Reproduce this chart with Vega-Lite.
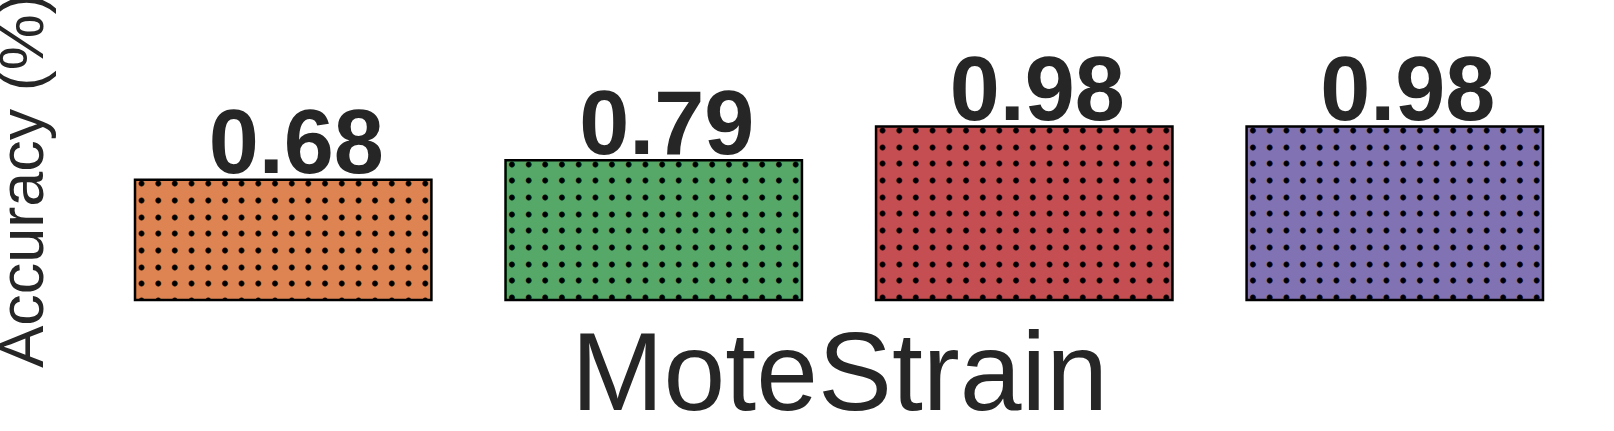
{
  "$schema": "https://vega.github.io/schema/vega-lite/v6.json",
  "width": 1408,
  "height": 240,
  "autosize": {"type": "none"},
  "padding": {"left": 135, "top": 60, "right": 71, "bottom": 131},
  "background": "white",
  "config": {"view": {"stroke": null}, "font": "Liberation Sans"},
  "data": {
    "values": [
      {"method": "Method 1", "accuracy": 0.68},
      {"method": "Method 2", "accuracy": 0.79},
      {"method": "Method 3", "accuracy": 0.98},
      {"method": "Method 4", "accuracy": 0.98}
    ]
  },
  "encoding": {
    "x": {
      "field": "method",
      "type": "nominal",
      "sort": null,
      "scale": {"paddingInner": 0.2, "paddingOuter": 0},
      "axis": {
        "title": "MoteStrain",
        "labels": false,
        "ticks": false,
        "domain": false,
        "grid": false,
        "titleFont": "Liberation Sans",
        "titleFontSize": 111,
        "titleFontWeight": "normal",
        "titleColor": "#262626",
        "titleX": 704,
        "titleY": 109,
        "titleAlign": "center",
        "titleBaseline": "alphabetic"
      }
    },
    "y": {
      "field": "accuracy",
      "type": "quantitative",
      "scale": {"domain": [0, 1.356], "nice": false, "zero": true},
      "axis": {
        "title": "Accuracy (%)",
        "labels": false,
        "ticks": false,
        "domain": false,
        "grid": false,
        "titleFont": "Liberation Sans",
        "titleFontSize": 63,
        "titleFontWeight": "normal",
        "titleColor": "#262626",
        "titleLimit": 2000,
        "titlePadding": 80
      }
    }
  },
  "layer": [
    {
      "mark": {"type": "bar", "strokeWidth": 0},
      "encoding": {
        "color": {
          "field": "method",
          "type": "nominal",
          "sort": null,
          "scale": {"range": ["#DD8452", "#55A868", "#C44E52", "#8172B3"]},
          "legend": null
        }
      }
    },
    {
      "mark": {
        "type": "text",
        "text": [
          "\u00a0•\u00a0•\u00a0•\u00a0•\u00a0•\u00a0•\u00a0•\u00a0•\u00a0•\u00a0•\u00a0•\u00a0•\u00a0•\u00a0•\u00a0•\u00a0•\u00a0•\u00a0•",
          "•\u00a0•\u00a0•\u00a0•\u00a0•\u00a0•\u00a0•\u00a0•\u00a0•\u00a0•\u00a0•\u00a0•\u00a0•\u00a0•\u00a0•\u00a0•\u00a0•\u00a0•\u00a0",
          "\u00a0•\u00a0•\u00a0•\u00a0•\u00a0•\u00a0•\u00a0•\u00a0•\u00a0•\u00a0•\u00a0•\u00a0•\u00a0•\u00a0•\u00a0•\u00a0•\u00a0•\u00a0•",
          "•\u00a0•\u00a0•\u00a0•\u00a0•\u00a0•\u00a0•\u00a0•\u00a0•\u00a0•\u00a0•\u00a0•\u00a0•\u00a0•\u00a0•\u00a0•\u00a0•\u00a0•\u00a0",
          "\u00a0•\u00a0•\u00a0•\u00a0•\u00a0•\u00a0•\u00a0•\u00a0•\u00a0•\u00a0•\u00a0•\u00a0•\u00a0•\u00a0•\u00a0•\u00a0•\u00a0•\u00a0•",
          "•\u00a0•\u00a0•\u00a0•\u00a0•\u00a0•\u00a0•\u00a0•\u00a0•\u00a0•\u00a0•\u00a0•\u00a0•\u00a0•\u00a0•\u00a0•\u00a0•\u00a0•\u00a0",
          "\u00a0•\u00a0•\u00a0•\u00a0•\u00a0•\u00a0•\u00a0•\u00a0•\u00a0•\u00a0•\u00a0•\u00a0•\u00a0•\u00a0•\u00a0•\u00a0•\u00a0•\u00a0•",
          "•\u00a0•\u00a0•\u00a0•\u00a0•\u00a0•\u00a0•\u00a0•\u00a0•\u00a0•\u00a0•\u00a0•\u00a0•\u00a0•\u00a0•\u00a0•\u00a0•\u00a0•\u00a0",
          "\u00a0•\u00a0•\u00a0•\u00a0•\u00a0•\u00a0•\u00a0•\u00a0•\u00a0•\u00a0•\u00a0•\u00a0•\u00a0•\u00a0•\u00a0•\u00a0•\u00a0•\u00a0•",
          "•\u00a0•\u00a0•\u00a0•\u00a0•\u00a0•\u00a0•\u00a0•\u00a0•\u00a0•\u00a0•\u00a0•\u00a0•\u00a0•\u00a0•\u00a0•\u00a0•\u00a0•\u00a0",
          "\u00a0•\u00a0•\u00a0•\u00a0•\u00a0•\u00a0•\u00a0•\u00a0•\u00a0•\u00a0•\u00a0•\u00a0•\u00a0•\u00a0•\u00a0•\u00a0•\u00a0•\u00a0•"
        ],
        "font": "DejaVu Sans Mono",
        "fontSize": 13.87,
        "fontWeight": "bold",
        "lineHeight": 16.67,
        "baseline": "top",
        "align": "center",
        "dy": -1.4,
        "clip": true,
        "color": "black",
        "stroke": "black",
        "strokeWidth": 0.8
      }
    },
    {
      "mark": {"type": "bar", "fill": "white", "fillOpacity": 0, "stroke": "black", "strokeWidth": 2.5}
    },
    {
      "mark": {
        "type": "text",
        "baseline": "alphabetic",
        "align": "center",
        "dx": 13,
        "dy": -6.5,
        "font": "Liberation Sans",
        "fontSize": 90,
        "fontWeight": "bold",
        "color": "#262626"
      },
      "encoding": {
        "text": {"field": "accuracy", "type": "quantitative", "format": ".2f"}
      }
    }
  ]
}
